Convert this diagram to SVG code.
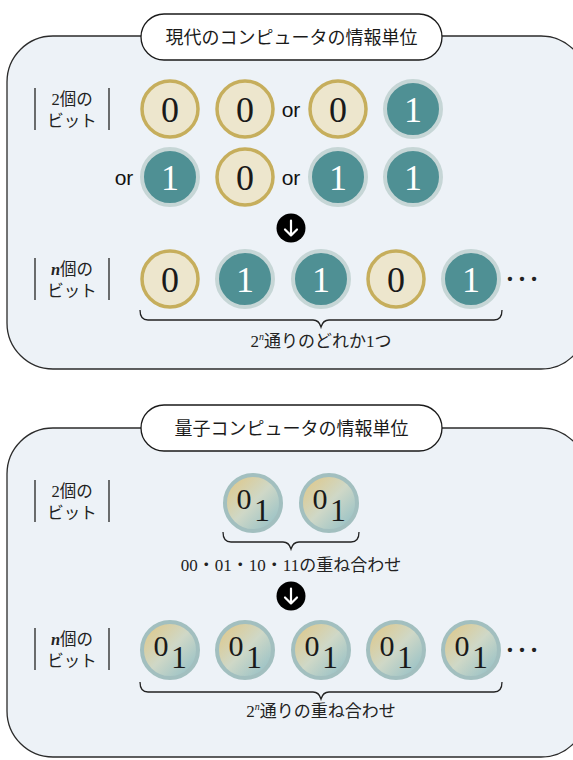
<svg xmlns="http://www.w3.org/2000/svg" width="573" height="760" viewBox="0 0 573 760">
<defs>
<style>
.panel{fill:#edf2f7;stroke:#2b2b2b;stroke-width:1.3}
.pill{fill:#fff;stroke:#1a1a1a;stroke-width:1.3}
.title{font-family:"Noto Sans CJK JP","Noto Sans",sans-serif;font-size:18px;fill:#1a1a1a;text-anchor:middle}
.lbl{font-family:"Liberation Serif","Noto Sans CJK JP",serif;font-size:16.5px;fill:#222;text-anchor:middle}
.bar{stroke:#222;stroke-width:1.3}
.g{fill:#ede6cd;stroke:#c6ae5c;stroke-width:3.5}
.t{fill:#4f9094;stroke:#c6d6d6;stroke-width:4}
.q{fill:url(#qg);stroke:#a2bfbf;stroke-width:4}
.dg{font-family:"Liberation Serif","DejaVu Serif",serif;font-size:36px;text-anchor:middle}
.d0{fill:#1a1a1a}
.d1{fill:#fff}
.qd{font-family:"Liberation Serif","DejaVu Serif",serif;fill:#1a1a1a;text-anchor:middle}
.or{font-family:"Liberation Sans",Arial,sans-serif;font-size:21px;fill:#111;text-anchor:middle}
.brace{fill:none;stroke:#222;stroke-width:1.3}
.cap{font-family:"Liberation Serif","Noto Sans CJK JP",serif;font-size:17px;fill:#222;text-anchor:middle}
.dots{font-family:"Liberation Serif",serif;font-size:36px;fill:#222}
.arr{fill:none;stroke:#fff;stroke-width:2.2;stroke-linecap:round;stroke-linejoin:round}
</style>
<linearGradient id="qg" x1="0.15" y1="0.15" x2="0.85" y2="0.85">
<stop offset="0" stop-color="#dccb95"/>
<stop offset="0.5" stop-color="#cfd8c7"/>
<stop offset="1" stop-color="#9fc4c6"/>
</linearGradient>
</defs>

<!-- Panel 1 -->
<g id="panel-classic">
<rect class="panel" x="7" y="36" width="580" height="333" rx="46"/>
<rect class="pill" x="141" y="14" width="301" height="46" rx="23"/>
<text class="title" x="291.5" y="43.5">現代のコンピュータの情報単位</text>
</g>

<!-- Panel 2 -->
<g id="panel-quantum">
<rect class="panel" x="7" y="428" width="580" height="329" rx="46"/>
<rect class="pill" x="141" y="405" width="301" height="46" rx="23"/>
<text class="title" x="291.5" y="434.5">量子コンピュータの情報単位</text>
</g>

<g id="label-2bit-classic">
<line class="bar" x1="35" y1="88" x2="35" y2="130"/>
<line class="bar" x1="109" y1="88" x2="109" y2="130"/>
<text class="lbl" x="72" y="105">2個の</text>
<text class="lbl" x="72" y="127">ビット</text>
</g>

<g id="row1">
<circle class="g" cx="170" cy="109" r="28"/><text class="dg d0" x="170" y="122">0</text>
<circle class="g" cx="245" cy="109" r="28"/><text class="dg d0" x="245" y="122">0</text>
<text class="or" x="291" y="117">or</text>
<circle class="g" cx="338" cy="109" r="28"/><text class="dg d0" x="338" y="122">0</text>
<circle class="t" cx="413" cy="109" r="28"/><text class="dg d1" x="413" y="122">1</text>
</g>

<g id="row2">
<text class="or" x="124" y="185">or</text>
<circle class="t" cx="170" cy="177" r="28"/><text class="dg d1" x="170" y="190">1</text>
<circle class="g" cx="245" cy="177" r="28"/><text class="dg d0" x="245" y="190">0</text>
<text class="or" x="291" y="185">or</text>
<circle class="t" cx="338" cy="177" r="28"/><text class="dg d1" x="338" y="190">1</text>
<circle class="t" cx="413" cy="177" r="28"/><text class="dg d1" x="413" y="190">1</text>
</g>

<g id="arrow1">
<circle cx="291" cy="228" r="14.5" fill="#000"/>
<path class="arr" d="M291 220.5V235.5M285 229.5L291 235.5L297 229.5"/>
</g>

<g id="label-nbit-classic">
<line class="bar" x1="35" y1="258" x2="35" y2="300"/>
<line class="bar" x1="109" y1="258" x2="109" y2="300"/>
<text class="lbl" x="72" y="275"><tspan font-style="italic" font-weight="bold">n</tspan>個の</text>
<text class="lbl" x="72" y="297">ビット</text>
</g>

<g id="rown-classic">
<circle class="g" cx="170" cy="279" r="28"/><text class="dg d0" x="170" y="292">0</text>
<circle class="t" cx="245" cy="279" r="28"/><text class="dg d1" x="245" y="292">1</text>
<circle class="t" cx="321" cy="279" r="28"/><text class="dg d1" x="321" y="292">1</text>
<circle class="g" cx="396" cy="279" r="28"/><text class="dg d0" x="396" y="292">0</text>
<circle class="t" cx="471" cy="279" r="28"/><text class="dg d1" x="471" y="292">1</text>
<text class="dots" x="504" y="281">…</text>
</g>

<g id="connectors">
<path class="brace" d="M140 310Q140 320 148 320H313Q319 320 321 327Q323 320 329 320H494Q502 320 502 310"/>
<path class="brace" d="M223 532Q223 542 231 542H283Q289 542 291 549Q293 542 299 542H351Q359 542 359 532"/>
<path class="brace" d="M140 682Q140 692 148 692H313Q319 692 321 699Q323 692 329 692H494Q502 692 502 682"/>
</g>

<text class="cap" x="321" y="347">2<tspan font-size="10" dy="-7" font-style="italic">n</tspan><tspan dy="7">通りのどれか1つ</tspan></text>

<g id="label-2bit-quantum">
<line class="bar" x1="35" y1="480" x2="35" y2="522"/>
<line class="bar" x1="109" y1="480" x2="109" y2="522"/>
<text class="lbl" x="72" y="497">2個の</text>
<text class="lbl" x="72" y="519">ビット</text>
</g>

<g id="row-q2">
<circle class="q" cx="253" cy="503" r="28"/>
<text class="qd" x="244" y="509" font-size="30">0</text><text class="qd" x="262" y="521" font-size="32">1</text>
<circle class="q" cx="329" cy="503" r="28"/>
<text class="qd" x="320" y="509" font-size="30">0</text><text class="qd" x="338" y="521" font-size="32">1</text>
</g>

<text class="cap" x="291" y="571">00・01・10・11の重ね合わせ</text>

<g id="arrow2">
<circle cx="291" cy="596" r="14.5" fill="#000"/>
<path class="arr" d="M291 588.5V603.5M285 597.5L291 603.5L297 597.5"/>
</g>

<g id="label-nbit-quantum">
<line class="bar" x1="35" y1="628" x2="35" y2="670"/>
<line class="bar" x1="109" y1="628" x2="109" y2="670"/>
<text class="lbl" x="72" y="645"><tspan font-style="italic" font-weight="bold">n</tspan>個の</text>
<text class="lbl" x="72" y="667">ビット</text>
</g>

<g id="rown-quantum">
<circle class="q" cx="170" cy="650" r="28"/>
<text class="qd" x="161" y="656" font-size="30">0</text><text class="qd" x="179" y="668" font-size="32">1</text>
<circle class="q" cx="245" cy="650" r="28"/>
<text class="qd" x="236" y="656" font-size="30">0</text><text class="qd" x="254" y="668" font-size="32">1</text>
<circle class="q" cx="321" cy="650" r="28"/>
<text class="qd" x="312" y="656" font-size="30">0</text><text class="qd" x="330" y="668" font-size="32">1</text>
<circle class="q" cx="396" cy="650" r="28"/>
<text class="qd" x="387" y="656" font-size="30">0</text><text class="qd" x="405" y="668" font-size="32">1</text>
<circle class="q" cx="471" cy="650" r="28"/>
<text class="qd" x="462" y="656" font-size="30">0</text><text class="qd" x="480" y="668" font-size="32">1</text>
<text class="dots" x="504" y="652">…</text>
</g>

<text class="cap" x="321" y="717">2<tspan font-size="10" dy="-7" font-style="italic">n</tspan><tspan dy="7">通りの重ね合わせ</tspan></text>
</svg>
